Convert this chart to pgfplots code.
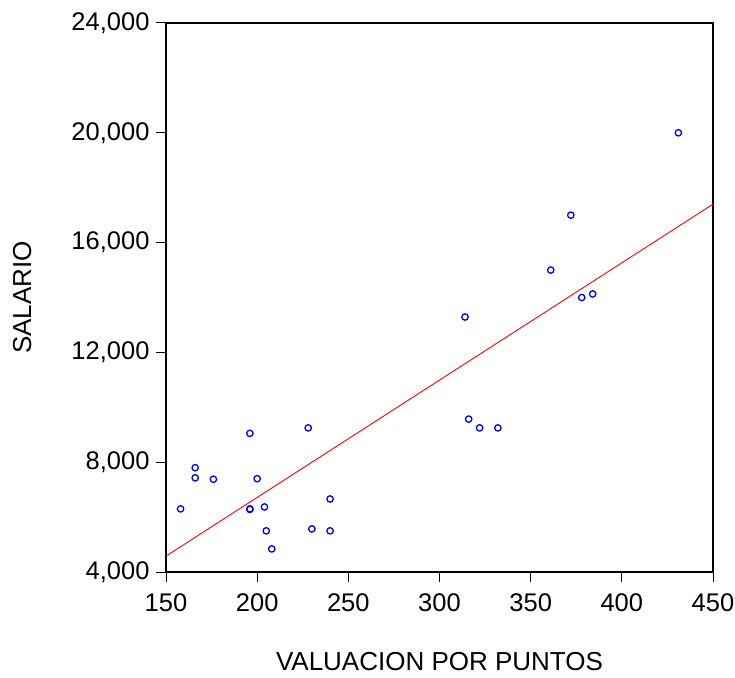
\documentclass[border=0pt]{standalone}
\usepackage{fontspec}
\setmainfont{Liberation Sans}
\usepackage{pgfplots}
\pgfplotsset{compat=1.18}
\begin{document}
\begin{tikzpicture}
\useasboundingbox (0pt,0pt) rectangle (735pt,677pt);
\begin{axis}[
  at={(166pt,105pt)}, anchor=south west,
  scale only axis, width=547pt, height=549pt,
  xmin=150, xmax=450, ymin=4000, ymax=24000,
  xtick={150,200,...,450}, ytick={4000,8000,...,24000},
  scaled ticks=false,
  axis line style={line width=1.2pt},
  tick style={line width=1pt, black},
  tick align=outside, major tick length=10pt,
  xtick pos=bottom, ytick pos=left,
  every tick label/.append style={font=\fontsize{25.5}{30}\selectfont},
  /pgf/number format/assume math mode=true,
  /pgf/number format/.cd, fixed, precision=0, 1000 sep={,}, /pgfplots/.cd,
  xticklabel style={yshift=-8pt},
  yticklabel style={xshift=-3pt},
  xlabel={VALUACION POR PUNTOS}, ylabel={SALARIO},
  label style={font=\fontsize{26}{30}\selectfont},
  xlabel style={at={(axis description cs:0.5,-0.163)}, anchor=center},
  ylabel style={at={(axis description cs:-0.263,0.5)}, anchor=center, rotate=0},
  clip=false,
]
\addplot[red, line width=0.9pt] coordinates {(150,4580) (450,17400)};
\addplot[only marks, mark=o, mark size=3.2pt, color=blue, mark options={line width=1.3pt}] coordinates {
(158,6300) (166,7800) (166,7430) (176,7380) (196,9050) (196,6300) (196,6280)
(200,7400) (204,6370) (205,5500) (208,4840) (228,9250) (230,5570) (240,5500)
(240,6660) (314,13290) (316,9570) (322,9250) (332,9250) (361,15000) (372,17000)
(378,14000) (384,14130) (431,20000)
};
\end{axis}
\end{tikzpicture}
\end{document}
